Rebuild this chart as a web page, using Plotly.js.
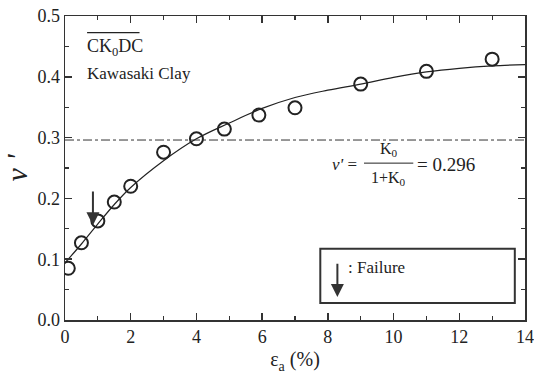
<!DOCTYPE html>
<html><head><meta charset="utf-8">
<script src="https://cdn.plot.ly/plotly-3.0.1.min.js"></script>
<style>body{margin:0;background:#fff}#c{width:534px;height:374px}#pre{position:absolute;left:0;top:0;font-family:'Liberation Serif';font-size:12px;color:rgba(255,255,255,0.01)}</style>
</head><body><span id="pre">Kawasaki 0.296 νε</span><div id="c"></div>
<script>
// measured points
const strainPts = [0.1, 0.5, 1.0, 1.5, 2.0, 3.0, 4.0, 4.85, 5.9, 7.0, 9.0, 11.0, 13.0];
const nuPts     = [0.085, 0.127, 0.163, 0.194, 0.220, 0.276, 0.298, 0.314, 0.337, 0.349, 0.388, 0.409, 0.429];
// fitted curve
const strainFit = [0, 0.5, 1, 1.5, 2, 3, 4, 5, 6, 7, 8, 9, 10, 11, 12, 13, 14];
const nuFit     = [0.094, 0.125, 0.158, 0.190, 0.218, 0.262, 0.298, 0.324, 0.348, 0.366, 0.378, 0.388, 0.399, 0.408, 0.414, 0.418, 0.420];
// reference line nu' = K0/(1+K0)
const refX = [0, 14];
const refY = [0.296, 0.296];
const failureX = 0.85, failureTail = 0.214, failureTip = 0.156;

const FAM = 'Liberation Serif';
const font = {family: FAM, color: '#222', size: 16};
function tf(sz){ return {family: FAM, color: '#222', size: sz}; }
const data = [
  {x: refX, y: refY, mode: 'lines', line: {color: '#333', width: 1, dash: 'dashdot'}, hoverinfo: 'skip'},
  {x: strainFit, y: nuFit, mode: 'lines', line: {color: '#222', width: 1.2, shape: 'spline'}},
  {x: strainPts, y: nuPts, mode: 'markers',
   marker: {symbol: 'circle-open', size: 13, color: '#222', line: {width: 2, color: '#222'}}}
];
const layout = {
  width: 534, height: 374, showlegend: false,
  margin: {l: 65, r: 9, t: 16, b: 54},
  paper_bgcolor: '#fff', plot_bgcolor: '#fff', font: font,
  xaxis: {showgrid: false, zeroline: false, showline: true, linecolor: '#333', linewidth: 1.5,
    mirror: 'ticks', ticks: 'inside', ticklen: 7, tickwidth: 1.5, tickcolor: '#333', tickfont: tf(18),
    range: [0, 14], dtick: 2, tick0: 0,
    minor: {dtick: 1, ticks: 'inside', ticklen: 4, tickcolor: '#333', tickwidth: 1.2},
    title: {text: 'ε<sub>a</sub> (%)', font: tf(20), standoff: 6}},
  yaxis: {showgrid: false, zeroline: false, showline: true, linecolor: '#333', linewidth: 1.5,
    mirror: 'ticks', ticks: 'inside', ticklen: 7, tickwidth: 1.5, tickcolor: '#333', tickfont: tf(18),
    range: [0, 0.5], dtick: 0.1, tickformat: '.1f',
    minor: {dtick: 0.05, ticks: 'inside', ticklen: 4, tickcolor: '#333', tickwidth: 1.2},
    title: {text: '<i>ν \'</i>', font: tf(30), standoff: 12}},
  shapes: [
    {type: 'rect', xref: 'x', yref: 'y', x0: 7.77, x1: 13.69, y0: 0.028, y1: 0.117, line: {color: '#333', width: 2}},
    {type: 'line', xref: 'paper', yref: 'paper', x0: 0.048, x1: 0.162, y0: 0.945, y1: 0.945, line: {color: '#222', width: 1.2}},
    {type: 'line', xref: 'x', yref: 'y', x0: 9.1, x1: 10.6, y0: 0.258, y1: 0.258, line: {color: '#222', width: 1}}
  ],
  annotations: [
    {xref: 'x', yref: 'y', x: 0.6, y: 0.449, xanchor: 'left', yanchor: 'middle', showarrow: false,
     text: 'CK<sub>0</sub>DC', font: tf(18)},
    {xref: 'x', yref: 'y', x: 0.6, y: 0.406, xanchor: 'left', yanchor: 'middle', showarrow: false,
     text: 'Kawasaki Clay', font: tf(17)},
    {xref: 'x', yref: 'y', x: 8.05, y: 0.255, xanchor: 'left', yanchor: 'middle', showarrow: false,
     text: '<i>ν\'</i> =', font: tf(17)},
    {xref: 'x', yref: 'y', x: 9.85, y: 0.280, xanchor: 'center', yanchor: 'middle', showarrow: false,
     text: 'K<sub>0</sub>', font: tf(16)},
    {xref: 'x', yref: 'y', x: 9.85, y: 0.233, xanchor: 'center', yanchor: 'middle', showarrow: false,
     text: '1+K<sub>0</sub>', font: tf(16)},
    {xref: 'x', yref: 'y', x: 10.65, y: 0.255, xanchor: 'left', yanchor: 'middle', showarrow: false,
     text: '= 0.296', font: tf(19)},
    {xref: 'x', yref: 'y', x: 8.55, y: 0.087, xanchor: 'left', yanchor: 'middle', showarrow: false,
     text: ': Failure', font: tf(17)},
    {xref: 'x', yref: 'y', axref: 'x', ayref: 'y', x: 8.29, y: 0.038, ax: 8.29, ay: 0.095,
     showarrow: true, arrowhead: 2, arrowsize: 1.3, arrowwidth: 2, arrowcolor: '#333', text: ''},
    {xref: 'x', yref: 'y', axref: 'x', ayref: 'y', x: failureX, y: failureTip, ax: failureX, ay: failureTail,
     showarrow: true, arrowhead: 2, arrowsize: 1.3, arrowwidth: 2, arrowcolor: '#333', text: ''}
  ]
};
const cfg = {displayModeBar: false, staticPlot: true};
Plotly.newPlot('c', data, layout, cfg);
if (document.fonts && document.fonts.load) {
  document.fonts.load('16px "Liberation Serif"').then(function(){
    Plotly.newPlot('c', data, layout, cfg);
  }).catch(function(){});
}
</script></body></html>
